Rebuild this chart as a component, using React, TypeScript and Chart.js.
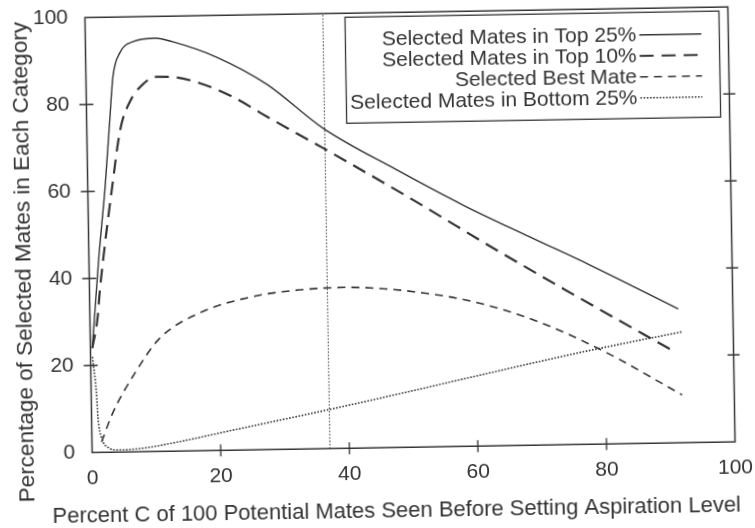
import React, { useEffect, useRef } from "react";
import { Chart, registerables } from "chart.js";

Chart.register(...registerables);

// ---- data ----
const seriesLabels = [
  "Selected Mates in Top 25%",
  "Selected Mates in Top 10%",
  "Selected Best Mate",
  "Selected Mates in Bottom 25%",
];

const top25X = [0.3, 1.5, 2.7, 3.6, 4.2, 5.35, 7.4, 10.9, 13.6, 20.4, 28.1, 36.7, 48.1, 58.4, 68.6, 77.9, 91.5];
const top25Y = [24, 44.2, 61, 76.4, 86.3, 91.8, 94.3, 95.0, 94.1, 90.4, 84.0, 73.7, 63.8, 55.4, 47.9, 41.2, 30.8];

const top10X = [0.3, 1.2, 1.6, 2.2, 3.8, 5.2, 6.7, 8.8, 11, 13.5, 17.7, 22.8, 28.1, 36.7, 50.6, 63.4, 75.8, 90.9];
const top10Y = [24, 31, 37, 44.2, 61, 74.1, 80.3, 84.4, 86.1, 86.0, 84.5, 81.2, 76.5, 69.1, 56.8, 45.0, 34.0, 20.9];

const bestX = [1.5, 3.3, 6.9, 10.8, 17.1, 24.9, 32.7, 40, 46, 52, 58, 64, 70, 76, 82, 88, 91.9];
const bestY = [2.4, 9.0, 18.2, 26.0, 31.7, 35.1, 36.6, 37.0, 36.5, 35.4, 33.8, 31.4, 28.2, 24.2, 19.6, 14.4, 11.0];

const bottomX = [0.3, 0.8, 1.0, 1.5, 2.6, 3.9, 7.9, 13.7, 21.9, 36.7, 44.9, 73, 79.5, 92];
const bottomY = [22, 14, 8, 3.4, 1.0, 0.5, 0.8, 2.2, 4.6, 8.9, 11.4, 20.2, 22.1, 25.5];

const cutoffX = [37, 37];
const cutoffY = [0, 100];

const xTicks = [0, 20, 40, 60, 80, 100];
const yTicks = [0, 20, 40, 60, 80, 100];

const xTitle = "Percent C of 100 Potential Mates Seen Before Setting Aspiration Level";
const yTitle = "Percentage of Selected Mates in Each Category";

// ---- styling ----
const INK = "#353535";
const TEXT = "#333333";
const FONT = "'Liberation Sans', Arial, Helvetica, sans-serif";

const toPoints = (xs: number[], ys: number[]) => xs.map((x, i) => ({ x, y: ys[i] }));

const framePlugin = {
  id: "gnuplotFrame",
  afterDatasetsDraw(chart: any) {
    const { ctx, chartArea: a, scales } = chart;
    ctx.save();
    // frame
    ctx.strokeStyle = INK;
    ctx.lineWidth = 1.5;
    ctx.setLineDash([]);
    ctx.strokeRect(a.left, a.top, a.right - a.left, a.bottom - a.top);
    // cross ticks
    ctx.lineWidth = 1.3;
    ctx.beginPath();
    xTicks.slice(1, -1).forEach((v) => {
      const px = scales.x.getPixelForValue(v);
      ctx.moveTo(px, a.bottom - 6);
      ctx.lineTo(px, a.bottom + 6);
    });
    yTicks.slice(1, -1).forEach((v) => {
      const py = scales.y.getPixelForValue(v);
      ctx.moveTo(a.left - 7, py);
      ctx.lineTo(a.left + 7, py);
      ctx.moveTo(a.right - 6, py);
      ctx.lineTo(a.right + 6, py);
    });
    ctx.stroke();

    // key box (gnuplot style)
    const boxRight = a.right - 9;
    const boxLeft = boxRight - 374;
    const boxTop = a.top + 4;
    const rowH = 21;
    const rows = seriesLabels.length;
    const boxBottom = boxTop + rows * rowH + 22;
    ctx.lineWidth = 1.3;
    ctx.strokeRect(boxLeft, boxTop, boxRight - boxLeft, boxBottom - boxTop);
    const textRight = boxRight - 83;
    const sampleL = boxRight - 80;
    const sampleR = boxRight - 18;
    ctx.font = `21px ${FONT}`;
    ctx.fillStyle = TEXT;
    ctx.textAlign = "right";
    ctx.textBaseline = "middle";
    chart.data.datasets.slice(0, rows).forEach((ds: any, i: number) => {
      const cy = boxTop + 22.5 + i * rowH;
      ctx.fillText(ds.label, textRight, cy);
      ctx.strokeStyle = ds.borderColor;
      ctx.lineWidth = ds.borderWidth;
      ctx.setLineDash(ds.borderDash || []);
      ctx.beginPath();
      ctx.moveTo(sampleL, cy);
      ctx.lineTo(sampleR, cy);
      ctx.stroke();
    });

    // axis titles (drawn at natural width, not squeezed)
    ctx.setLineDash([]);
    ctx.fillStyle = TEXT;
    ctx.textAlign = "center";
    ctx.textBaseline = "middle";
    ctx.font = `22px ${FONT}`;
    ctx.fillText(xTitle, (a.left + a.right) / 2 - 18, a.bottom + 64);
    ctx.save();
    ctx.translate(24, (a.top + a.bottom) / 2 + 26);
    ctx.rotate(-Math.PI / 2);
    ctx.font = `22.5px ${FONT}`;
    ctx.fillText(yTitle, 0, 0);
    ctx.restore();

    ctx.restore();
  },
};

export default function App() {
  const canvasRef = useRef<HTMLCanvasElement | null>(null);

  useEffect(() => {
    if (!canvasRef.current) return;
    const lineBase = {
      pointRadius: 0,
      pointHoverRadius: 0,
      fill: false,
      cubicInterpolationMode: "monotone" as const,
      borderColor: INK,
    };
    const chart = new Chart(canvasRef.current, {
      type: "line",
      data: {
        datasets: [
          { ...lineBase, label: seriesLabels[0], data: toPoints(top25X, top25Y), borderWidth: 1.4, borderDash: [] },
          { ...lineBase, label: seriesLabels[1], data: toPoints(top10X, top10Y), borderWidth: 2.2, borderDash: [14, 8] },
          { ...lineBase, label: seriesLabels[2], data: toPoints(bestX, bestY), borderWidth: 1.6, borderDash: [8, 6] },
          { ...lineBase, label: seriesLabels[3], data: toPoints(bottomX, bottomY), borderWidth: 1.6, borderDash: [1.6, 1.6] },
          { ...lineBase, label: "cutoff", data: toPoints(cutoffX, cutoffY), borderWidth: 1.2, borderDash: [1.3, 2], cubicInterpolationMode: "default" as const },
        ],
      },
      options: {
        animation: false,
        responsive: true,
        maintainAspectRatio: false,
        layout: { padding: { top: 12.25, right: 23.5, left: 0, bottom: 0 } },
        plugins: {
          legend: { display: false },
          tooltip: { enabled: false },
        },
        scales: {
          x: {
            type: "linear",
            min: 0,
            max: 100,
            afterBuildTicks: (s: any) => {
              s.ticks = xTicks.map((v) => ({ value: v }));
            },
            afterFit: (s: any) => {
              s.height = 80.75;
              s.paddingLeft = 0;
              s.paddingRight = 0;
            },
            grid: { display: false, drawTicks: false },
            border: { display: false },
            ticks: {
              padding: 13,
              color: TEXT,
              font: { family: FONT, size: 21 },
              maxRotation: 0,
              autoSkip: false,
            },
            title: { display: false },
          },
          y: {
            type: "linear",
            min: 0,
            max: 100,
            afterBuildTicks: (s: any) => {
              s.ticks = yTicks.map((v) => ({ value: v }));
            },
            afterFit: (s: any) => {
              s.width = 88.5;
              s.paddingTop = 0;
              s.paddingBottom = 0;
            },
            grid: { display: false, drawTicks: false },
            border: { display: false },
            ticks: {
              padding: 17,
              color: TEXT,
              font: { family: FONT, size: 21 },
              autoSkip: false,
            },
            title: { display: false },
          },
        },
      },
      plugins: [framePlugin],
    });
    return () => chart.destroy();
  }, []);

  return (
    <div
      style={{
        position: "absolute",
        left: 0,
        top: 0,
        width: 755,
        height: 528,
        overflow: "hidden",
        background: "#ffffff",
      }}
    >
      <div
        style={{
          position: "absolute",
          left: 0,
          top: 0,
          width: 755,
          height: 528,
          transform: "rotate(-0.95deg)",
          transformOrigin: "410px 230px",
        }}
      >
        <canvas ref={canvasRef} />
      </div>
    </div>
  );
}
